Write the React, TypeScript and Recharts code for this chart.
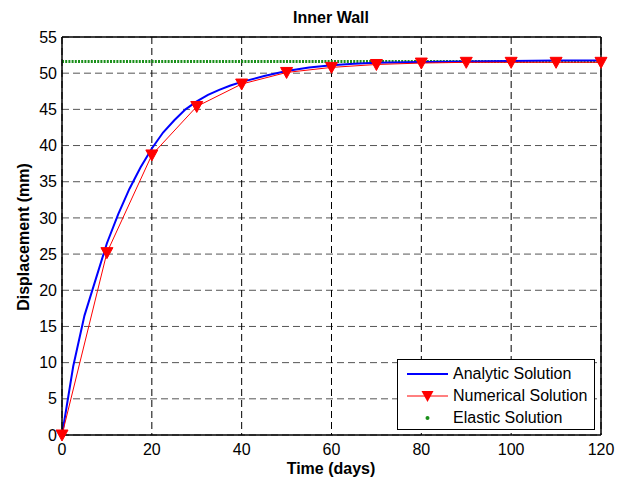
import React from "react";
import { LineChart, Line, XAxis, YAxis, CartesianGrid, ReferenceLine } from "recharts";

// analytic solution
const analyticT = [0, 2.5, 5, 7.5, 10, 12.5, 15, 17.5, 20, 22.5, 25, 27.5, 30, 32.5, 35, 37.5, 40, 45, 50, 55, 60, 65, 70, 80, 90, 100, 110, 120];
const analyticY = [0, 9.5, 16.5, 21.5, 26.5, 30.5, 34, 37, 39.6, 41.8, 43.5, 45, 46.1, 47, 47.7, 48.3, 48.8, 49.6, 50.3, 50.8, 51.1, 51.3, 51.45, 51.55, 51.6, 51.7, 51.75, 51.75];

// numerical solution (red triangles)
const numericalT = [0, 10, 20, 30, 40, 50, 60, 70, 80, 90, 100, 110, 120];
const numericalY = [0, 25.2, 38.7, 45.4, 48.5, 50.1, 50.8, 51.2, 51.4, 51.5, 51.5, 51.5, 51.5];

// elastic solution (constant)
const elasticT = [0, 120];
const elasticY = [51.6, 51.6];

const xTicks = [0, 20, 40, 60, 80, 100, 120];
const yTicks = [0, 5, 10, 15, 20, 25, 30, 35, 40, 45, 50, 55];

const analytic = analyticT.map((t, i) => ({ t, y: analyticY[i] }));
const numerical = numericalT.map((t, i) => ({ t, y: numericalY[i] }));
const elastic = elasticT.map((t, i) => ({ t, y: elasticY[i] }));

const FONT = "'Liberation Sans', Arial, Helvetica, sans-serif";

const Triangle = (props: any) => {
  const { cx, cy } = props;
  if (cx == null || cy == null) return null;
  return <path d={`M${cx - 6},${cy - 5} L${cx + 6},${cy - 5} L${cx},${cy + 6} Z`} fill="#ff0000" stroke="#ff0000" strokeWidth={1} />;
};

const App = () => {
  return (
    <div style={{ position: "absolute", left: 0, top: 0, width: 626, height: 479, background: "#fff", fontFamily: FONT }}>
      <LineChart width={626} height={479} margin={{ top: 37, right: 25, left: 0, bottom: 0 }}>
        <CartesianGrid horizontal={true} vertical={false} stroke="#555" strokeDasharray="7 4" />
        <CartesianGrid horizontal={false} vertical={true} stroke="#000" strokeDasharray="7 4" />
        <XAxis type="number" dataKey="t" domain={[0, 120]} ticks={xTicks} height={44}
          tickLine={false} tickSize={6} tickMargin={3}
          axisLine={{ stroke: "#000", strokeWidth: 1.5 }}
          tick={{ fill: "#000", fontSize: 16, fontFamily: FONT }} />
        <YAxis type="number" domain={[0, 55]} ticks={yTicks} width={62}
          tickLine={false} tickSize={3} tickMargin={2} interval={0}
          axisLine={{ stroke: "#000", strokeWidth: 1.5 }}
          tick={{ fill: "#000", fontSize: 16, fontFamily: FONT }} />
        <ReferenceLine y={55} stroke="#000" strokeWidth={1.5} />
        <ReferenceLine x={120} stroke="#000" strokeWidth={1.5} />
        <Line data={elastic} dataKey="y" stroke="#1a8f1a" strokeWidth={3} strokeDasharray="2 1.2" dot={false} isAnimationActive={false} />
        <Line data={analytic} dataKey="y" stroke="#0000ff" strokeWidth={2} dot={false} isAnimationActive={false} />
        <Line data={numerical} dataKey="y" stroke="#ff0000" strokeWidth={1} dot={<Triangle />} isAnimationActive={false} />
      </LineChart>

      {/* title and axis labels */}
      <div style={{ position: "absolute", left: 0, width: 662, top: 10, lineHeight: "16px", textAlign: "center", fontSize: 16, fontWeight: "bold" }}>Inner Wall</div>
      <div style={{ position: "absolute", left: 0, width: 662, top: 461, lineHeight: "16px", textAlign: "center", fontSize: 16, fontWeight: "bold" }}>Time (days)</div>
      <div style={{ position: "absolute", left: 24, top: 237, lineHeight: "16px", transform: "translate(-50%, -50%) rotate(-90deg)", whiteSpace: "nowrap", fontSize: 16, fontWeight: "bold" }}>Displacement (mm)</div>

      {/* legend */}
      <div style={{ position: "absolute", left: 397, top: 359, width: 196, height: 69, border: "1px solid #000", background: "#fff", fontSize: 16 }}>
        <svg width={196} height={69} style={{ position: "absolute", left: 0, top: 0 }}>
          <line x1={9} x2={50} y1={14} y2={14} stroke="#0000ff" strokeWidth={2} />
          <line x1={9} x2={50} y1={36} y2={36} stroke="#ff0000" strokeWidth={1} />
          <path d="M23.5,31 L35.5,31 L29.5,42 Z" fill="#ff0000" />
          <circle cx={29.5} cy={58} r={2} fill="#1a8f1a" />
        </svg>
        <div style={{ position: "absolute", left: 55, top: 4, lineHeight: "20px" }}>Analytic Solution</div>
        <div style={{ position: "absolute", left: 55, top: 26, lineHeight: "20px" }}>Numerical Solution</div>
        <div style={{ position: "absolute", left: 55, top: 48, lineHeight: "20px" }}>Elastic Solution</div>
      </div>
    </div>
  );
};

export default App;
